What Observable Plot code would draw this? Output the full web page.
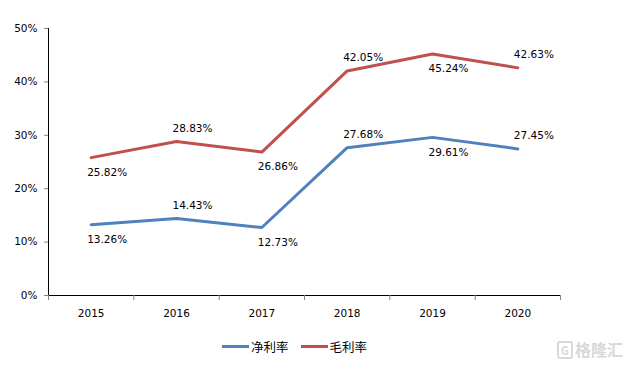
<!DOCTYPE html>
<html>
<head>
<meta charset="utf-8">
<script src="https://cdn.jsdelivr.net/npm/d3@7"></script>
<script src="https://cdn.jsdelivr.net/npm/@observablehq/plot@0.6"></script>
<style>
  html, body { margin: 0; padding: 0; background: #fff; }
  #wrap { position: relative; width: 632px; height: 369px; overflow: hidden; }
  #legend { position: absolute; left: 0; top: 337px; width: 589px; display: flex; justify-content: center; align-items: center;
    font-family: "Noto Sans CJK SC", sans-serif; font-size: 12.5px; color: #000; }
  .item { display: flex; align-items: center; margin: 0 6px; }
  .sw { display: inline-block; width: 27px; height: 3px; margin-right: 2px; }
  #wm { position: absolute; left: 557px; top: 337px; font-family: "Noto Sans CJK SC", sans-serif; font-size: 16px; color: #d8d8d8; font-weight: bold; }
  #wm span { display: inline-block; border: 2px solid #d8d8d8; border-radius: 3px; width: 12px; height: 14px; line-height: 14px; font-size: 11px; text-align: center; margin-right: 2px; vertical-align: 1px; }
</style>
</head>
<body>
<div id="wrap">
  <div id="chart"></div>
  <div id="legend"></div>
  <div id="wm"><span>G</span>格隆汇</div>
</div>
<script>
const years = ["2015", "2016", "2017", "2018", "2019", "2020"];
const netMargin = [13.26, 14.43, 12.73, 27.68, 29.61, 27.45];   // 净利率
const grossMargin = [25.82, 28.83, 26.86, 42.05, 45.24, 42.63]; // 毛利率
const seriesNames = ["净利率", "毛利率"];
const yTicks = [0, 10, 20, 30, 40, 50];
const colors = ["#4F81BD", "#C0504D"];

const rows = [];
[netMargin, grossMargin].forEach((vals, s) => {
  vals.forEach((v, i) => rows.push({series: seriesNames[s], i, year: years[i], value: v, above: i % 2 === 1}));
});
const boundaries = d3.range(0, years.length + 1).map(k => k - 0.5);

const font = "DejaVu Sans, sans-serif";
const chart = Plot.plot({
  width: 632,
  height: 330,
  marginLeft: 48,
  marginRight: 72,
  marginTop: 28,
  marginBottom: 35,
  style: {fontFamily: font, fontSize: "10.5px", color: "#000", background: "#fff"},
  x: {type: "linear", domain: [-0.5, years.length - 0.5], ticks: boundaries, tickFormat: () => "", tickSize: 5, line: true, label: null},
  y: {domain: [0, 50], ticks: yTicks, tickFormat: d => d + "%", tickSize: 4, tickPadding: 7, line: true, label: null},
  color: {domain: seriesNames, range: colors},
  marks: [
    Plot.line(rows, {x: "i", y: "value", z: "series", stroke: "series", strokeWidth: 3}),
    Plot.text(rows.filter(d => d.above), {x: "i", y: "value", text: d => d.value.toFixed(2) + "%", dx: 16, dy: -13, fill: "#000"}),
    Plot.text(rows.filter(d => !d.above), {x: "i", y: "value", text: d => d.value.toFixed(2) + "%", dx: 16, dy: 15, fill: "#000"}),
    Plot.text(years, {x: (d, i) => i, text: d => d, frameAnchor: "bottom", dy: 21, fill: "#000"})
  ]
});
d3.select(chart).selectAll('[aria-label*="axis"]').selectAll("line, path").style("stroke", "#868686");
document.getElementById("chart").appendChild(chart);

const legend = document.getElementById("legend");
seriesNames.forEach((n, s) => {
  const it = document.createElement("div");
  it.className = "item";
  it.innerHTML = `<span class="sw" style="background:${colors[s]}"></span><span>${n}</span>`;
  legend.appendChild(it);
});
</script>
</body>
</html>
